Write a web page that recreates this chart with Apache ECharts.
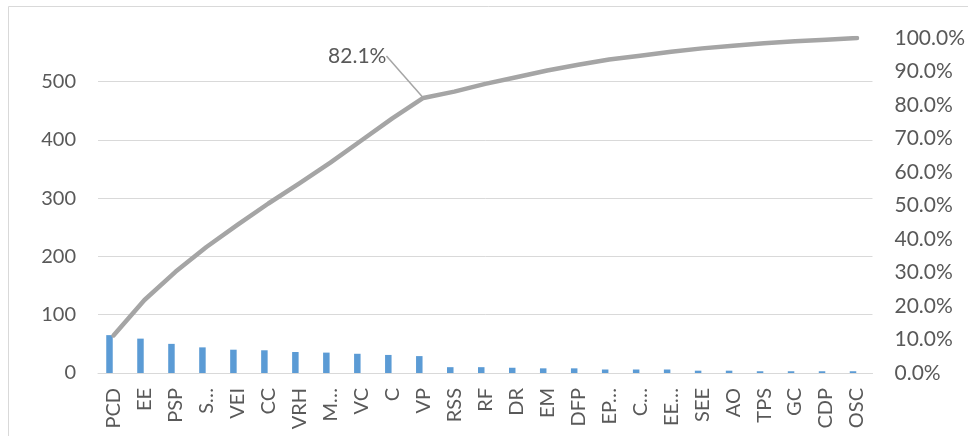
<!DOCTYPE html>
<html>
<head>
<meta charset="utf-8">
<style>
  html, body { margin: 0; padding: 0; background: #ffffff; }
  #chart { width: 968px; height: 436px; }
</style>
<script src="https://cdn.jsdelivr.net/npm/echarts@6/dist/echarts.min.js"></script>
</head>
<body>
<div id="chart"></div>
<script>
// Defect categories, sorted by count (Pareto order)
const categories = ['PCD', 'EE', 'PSP', 'S…', 'VEI', 'CC', 'VRH', 'M…', 'VC', 'C', 'VP',
  'RSS', 'RF', 'DR', 'EM', 'DFP', 'EP…', 'C…', 'EE…', 'SEE', 'AO', 'TPS', 'GC', 'CDP', 'OSC'];

// Occurrences per category
const counts = [65, 59, 50, 44, 40, 39, 36, 35, 33, 31, 29,
  10, 10, 9, 8, 8, 6, 6, 6, 4, 4, 3, 3, 3, 3];

// Cumulative share, in percent
const cumulativePct = [11.2, 21.8, 30.2, 37.6, 44.2, 50.6, 56.6, 62.8, 69.4, 76.0, 82.1,
  84.0, 86.3, 88.3, 90.3, 92.0, 93.6, 94.7, 95.9, 96.9, 97.7, 98.4, 99.0, 99.5, 100.0];

// Point whose cumulative share is called out
const calloutIndex = 10;

const countTicks = [0, 100, 200, 300, 400, 500];

const textColor = '#595959';
const gridColor = '#d9d9d9';
const font = 'Lato';

const lineData = cumulativePct.map((v, i) => {
  if (i !== calloutIndex) return v;
  return {
    value: v,
    label: {
      show: true,
      position: 'top',
      formatter: p => p.value.toFixed(1) + '%',
      color: textColor,
      fontFamily: font,
      fontSize: 21,
      padding: [0, 8, 0, 0]
    },
    labelLine: {
      show: true,
      lineStyle: { color: '#a5a5a5', width: 1.5 }
    }
  };
});

const chart = echarts.init(document.getElementById('chart'), null, { renderer: 'canvas' });

chart.setOption({
  animation: false,
  backgroundColor: '#ffffff',
  textStyle: { fontFamily: font },
  grid: { left: 98, right: 95, top: 38, bottom: 63, containLabel: false },
  graphic: [{
    type: 'rect',
    shape: { x: 8.5, y: 6.5, width: 980, height: 450 },
    style: { fill: 'none', stroke: gridColor, lineWidth: 1 },
    silent: true,
    z: -10
  }],
  xAxis: {
    type: 'category',
    data: categories,
    axisLine: { show: true, lineStyle: { color: gridColor, width: 1 } },
    axisTick: { show: false },
    axisLabel: {
      interval: 0,
      rotate: 90,
      margin: 15,
      color: textColor,
      fontFamily: font,
      fontSize: 20
    }
  },
  yAxis: [{
    type: 'value',
    min: 0,
    max: 575,
    interval: 100,
    axisLine: { show: false },
    axisTick: { show: false },
    splitLine: { show: true, showMaxLine: false, lineStyle: { color: gridColor, width: 1 } },
    axisLabel: {
      margin: 22,
      color: textColor,
      fontFamily: font,
      fontSize: 20,
      showMaxLabel: false,
      formatter: v => (countTicks.indexOf(v) >= 0 ? String(v) : '')
    }
  }, {
    type: 'value',
    min: 0,
    max: 100,
    interval: 10,
    axisLine: { show: false },
    axisTick: { show: false },
    splitLine: { show: false },
    axisLabel: {
      margin: 22,
      color: textColor,
      fontFamily: font,
      fontSize: 21,
      formatter: v => v.toFixed(1) + '%'
    }
  }],
  series: [{
    name: 'Count',
    type: 'bar',
    yAxisIndex: 0,
    data: counts,
    barWidth: 6.5,
    barGap: '23%',
    itemStyle: { color: '#5b9bd5' }
  }, {
    // empty second column slot of the clustered layout
    name: 'Slot',
    type: 'bar',
    yAxisIndex: 0,
    data: counts.map(() => null),
    barWidth: 6.5,
    itemStyle: { color: 'transparent' }
  }, {
    name: 'Cumulative %',
    type: 'line',
    yAxisIndex: 1,
    data: lineData,
    symbol: 'circle',
    symbolSize: 1,
    showSymbol: true,
    itemStyle: { color: 'rgba(165,165,165,0)' },
    smooth: false,
    lineStyle: { color: '#a5a5a5', width: 4.5, cap: 'round', join: 'round' },
    labelLayout: { dx: -62, dy: -26 },
    z: 3
  }]
});
</script>
</body>
</html>
